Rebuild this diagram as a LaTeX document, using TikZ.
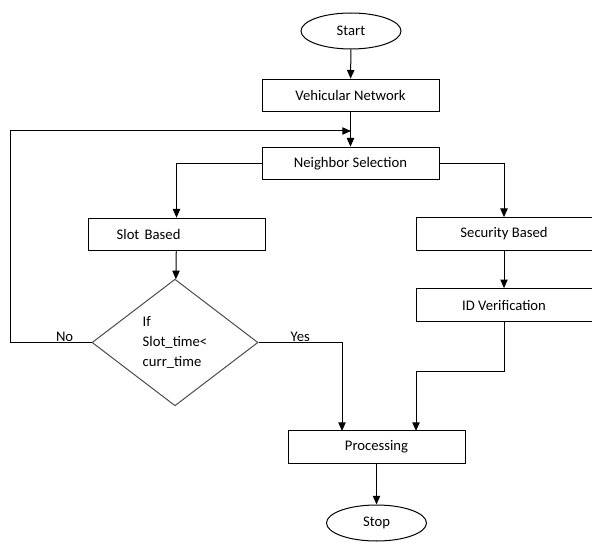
\documentclass[tikz,border=0pt]{standalone}
\usepackage{fontspec}
\setmainfont{Carlito}
\usetikzlibrary{shapes.geometric,arrows.meta}

\begin{document}
\begin{tikzpicture}[
  x=0.75pt, y=-0.75pt,
  font=\fontsize{11}{13}\selectfont,
  box/.style={draw, line width=.75pt, minimum width=132.75pt, minimum height=24.5pt,
              inner sep=0pt, align=center},
  term/.style={draw, ellipse, line width=.75pt, minimum width=75pt, minimum height=27pt,
               inner sep=0pt},
  decision/.style={draw=black!70, diamond, aspect=1.3, line width=.75pt,
                   minimum width=124.5pt, minimum height=95pt, inner sep=0pt, align=left,
                   font=\fontsize{11}{15}\selectfont},
  flow/.style={-{Triangle[length=6.5pt,width=5.5pt]}, line width=.75pt},
  lbl/.style={above, inner sep=.6pt}
]
  \useasboundingbox (0,0) rectangle (592,545);
  \node[term] (start) at (351,31) {Start};
  \node[box] (vehnet) at (350.5,95.5) {Vehicular Network};
  \node[box] (neighsel) at (350.5,163.5) {Neighbor Selection};
  \node[box, text width=89.75pt, inner xsep=21.5pt, align=left] (slotb) at (176.5,234.5) {Slot\hspace{4pt}Based};
  \node[box, minimum width=132pt] (secb) at (504,234) {Security Based};
  \node[box, minimum width=132pt] (idver) at (504,305) {ID Verification};
  \node[decision] (slotchk) at (175,342.5) {If\\Slot\_time<\\curr\_time};
  \node[box] (proc) at (376.5,447) {Processing};
  \node[term] (stop) at (376.5,523) {Stop};
  \coordinate (nocorner) at (10,342.5);
  \coordinate (loopin) at (351,131);
  \coordinate (yesin) at (342,431);
  \coordinate (idin) at (416,431);
  \draw[flow] (start) -- (vehnet);
  \draw[flow] (vehnet) -- (neighsel);
  \draw[flow] (neighsel.west) -| (slotb.north);
  \draw[flow] (neighsel.east) -| (secb.north);
  \draw[flow] (slotb) -- (slotchk);
  \draw[flow] (secb) -- (idver);
  \draw[flow] (slotchk.west) -- node[lbl, pos=.33]{No} (nocorner) |- (loopin);
  \draw[flow] (slotchk.east) -| node[lbl, pos=.25]{Yes} (yesin);
  \draw[flow] (idver.south) -- ++(0,50) -| (idin);
  \draw[flow] (proc) -- (stop);
\end{tikzpicture}
\end{document}
